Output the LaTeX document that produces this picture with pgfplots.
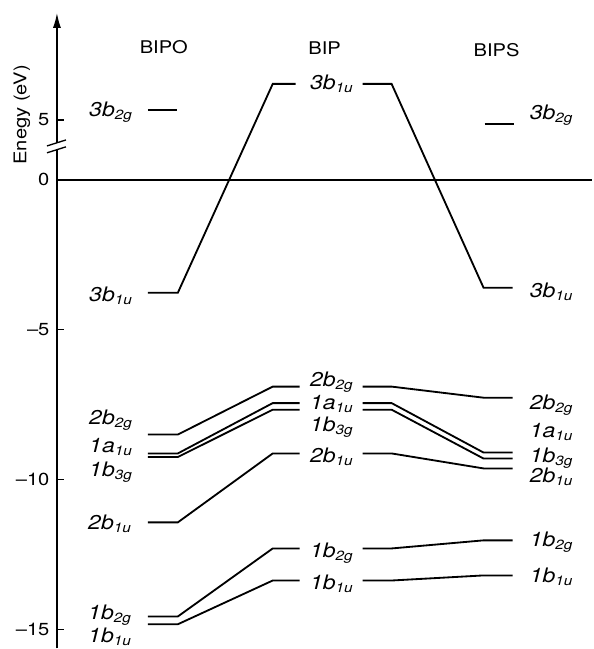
\documentclass[border=0pt]{standalone}
\usepackage{pgfplots}
\pgfplotsset{compat=1.18}
\usepackage{fontspec}
\setmainfont{TeX Gyre Heros}[FakeStretch=1.15]
\usetikzlibrary{arrows.meta}
\newcommand{\orb}[2]{\textit{#1\textsubscript{#2}}}
\tikzset{
  lbl/.style={anchor=base west, inner sep=0pt, font=\fontsize{12}{14}\selectfont},
  ttl/.style={anchor=base, inner sep=0pt, font=\fontsize{10.5}{12}\selectfont},
}
\begin{document}
\begin{tikzpicture}
\begin{axis}[
  x=0.6pt, y=18pt,
  xmin=57, xmax=593, ymin=-15.63, ymax=5.57,
  axis x line=none, axis y line=left,
  y axis line style={line width=0.9pt,-{Latex[length=9pt,width=4.8pt]}},
  ytick={-15,-10,-5,0,2},
  yticklabels={--15,--10,--5,0,5},
  tick align=inside, major tick length=4pt,
  tick style={line width=0.8pt,black},
  yticklabel style={font=\fontsize{10.5}{12}\selectfont, xshift=-1pt},
  clip=false,
  unbounded coords=jump,
  every axis plot post/.append style={black, solid, line width=1.1pt},
  no markers,
]
% axis is broken above 0: values above the break are shifted down by 3 eV
\path (axis cs:0,6.0) (axis cs:593,-15.63);
\addplot coordinates {(57,0) (593,0)};

% levels: BIPO (148-178), BIP (273-300 | 363-392), BIPS (484-513)
\addplot coordinates {(148,2.33) (177,2.33)};
\addplot coordinates {(485,1.87) (514,1.87)};
\addplot coordinates {(148,-3.77) (178,-3.77) (273,3.2) (296,3.2) (330,nan) (363,3.2) (392,3.2) (484,-3.6) (513,-3.6)};
\addplot coordinates {(148,-8.5) (178,-8.5) (273,-6.9) (300,-6.9) (330,nan) (363,-6.9) (392,-6.9) (484,-7.27) (513,-7.27)};
\addplot coordinates {(148,-9.13) (178,-9.13) (273,-7.45) (300,-7.45) (330,nan) (363,-7.45) (392,-7.45) (484,-9.1) (513,-9.1)};
\addplot coordinates {(148,-9.25) (178,-9.25) (273,-7.67) (300,-7.67) (330,nan) (363,-7.67) (392,-7.67) (484,-9.3) (513,-9.3)};
\addplot coordinates {(148,-11.43) (178,-11.43) (273,-9.13) (300,-9.13) (330,nan) (363,-9.13) (392,-9.13) (484,-9.63) (513,-9.63)};
\addplot coordinates {(148,-14.57) (178,-14.57) (273,-12.3) (300,-12.3) (330,nan) (363,-12.3) (392,-12.3) (484,-12.03) (513,-12.03)};
\addplot coordinates {(148,-14.83) (178,-14.83) (273,-13.37) (300,-13.37) (330,nan) (363,-13.37) (392,-13.37) (484,-13.2) (513,-13.2)};

% titles
\node[ttl] at (axis cs:164,4.2) {BIPO};
\node[ttl] at (axis cs:325,4.17) {BIP};
\node[ttl] at (axis cs:497,4.1) {BIPS};
\node[rotate=90, font=\fontsize{10.5}{12}\selectfont] at (axis cs:22,2.17) {Enegy (eV)};

% BIPO labels
\node[lbl] at (axis cs:89,2.1) {\orb{3b}{2g}};
\node[lbl] at (axis cs:89,-4.07) {\orb{3b}{1u}};
\node[lbl] at (axis cs:89,-8.17) {\orb{2b}{2g}};
\node[lbl] at (axis cs:89,-9.1) {\orb{1a}{1u}};
\node[lbl] at (axis cs:89,-9.9) {\orb{1b}{3g}};
\node[lbl] at (axis cs:88,-11.67) {\orb{2b}{1u}};
\node[lbl] at (axis cs:88,-14.67) {\orb{1b}{2g}};
\node[lbl] at (axis cs:88,-15.43) {\orb{1b}{1u}};

% BIP labels
\node[lbl] at (axis cs:310,3.0) {\orb{3b}{1u}};
\node[lbl] at (axis cs:310,-6.9) {\orb{2b}{2g}};
\node[lbl] at (axis cs:310,-7.67) {\orb{1a}{1u}};
\node[lbl] at (axis cs:310,-8.4) {\orb{1b}{3g}};
\node[lbl] at (axis cs:310,-9.43) {\orb{2b}{1u}};
\node[lbl] at (axis cs:310,-12.6) {\orb{1b}{2g}};
\node[lbl] at (axis cs:310,-13.67) {\orb{1b}{1u}};

% BIPS labels
\node[lbl] at (axis cs:530,2.0) {\orb{3b}{2g}};
\node[lbl] at (axis cs:530,-3.93) {\orb{3b}{1u}};
\node[lbl] at (axis cs:530,-7.67) {\orb{2b}{2g}};
\node[lbl] at (axis cs:530,-8.6) {\orb{1a}{1u}};
\node[lbl] at (axis cs:530,-9.43) {\orb{1b}{3g}};
\node[lbl] at (axis cs:530,-10.1) {\orb{2b}{1u}};
\node[lbl] at (axis cs:530,-12.23) {\orb{1b}{2g}};
\node[lbl] at (axis cs:530,-13.43) {\orb{1b}{1u}};

\coordinate (g1) at (axis cs:57,1.22);
\coordinate (g2) at (axis cs:57,1.02);
\coordinate (s1a) at (axis cs:47,1.13);
\coordinate (s1b) at (axis cs:66,1.33);
\coordinate (s2a) at (axis cs:47,0.9);
\coordinate (s2b) at (axis cs:66,1.1);
\end{axis}
% axis break marks
\draw[white, line width=2pt] (g1) -- (g2);
\draw[line width=0.8pt] (s1a) -- (s1b);
\draw[line width=0.8pt] (s2a) -- (s2b);
\end{tikzpicture}
\end{document}
